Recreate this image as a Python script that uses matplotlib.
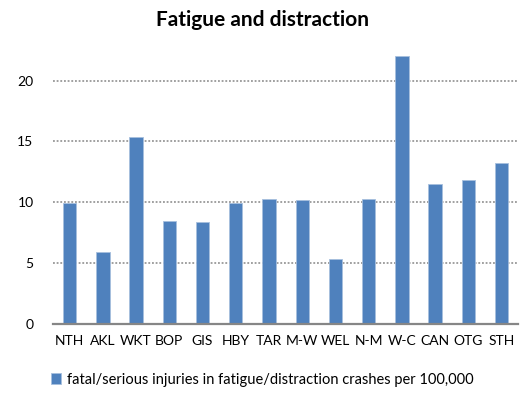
import matplotlib.pyplot as plt
import numpy as np

regions = ["NTH", "AKL", "WKT", "BOP", "GIS", "HBY", "TAR", "M-W",
           "WEL", "N-M", "W-C", "CAN", "OTG", "STH"]
rates = [9.9, 5.95, 15.35, 8.5, 8.35, 9.9, 10.25, 10.15,
         5.35, 10.25, 22.05, 11.5, 11.85, 13.25]
series_name = "fatal/serious injuries in fatigue/distraction crashes per 100,000"
yticks = [0, 5, 10, 15, 20]

plt.rcParams['font.family'] = ['Lato', 'DejaVu Sans']

fig = plt.figure(figsize=(5.25, 3.98), dpi=100)
ax = fig.add_axes([0.101, 0.186, 0.886, 0.688])

x = np.arange(len(regions))
ax.bar(x, rates, width=0.4, color='#4F81BD', edgecolor='#a7bfde',
       linewidth=0.6, label=series_name, zorder=3)

# dotted grid, grey baseline, no other spines
ax.set_yticks(yticks)
ax.yaxis.grid(True, linestyle=(0, (1.2, 1.2)), color='#868686', linewidth=1.1, zorder=0)
ax.set_ylim(0, 22.5)
ax.set_xlim(-0.5, len(regions) - 0.5)
for s in ['top', 'right', 'left']:
    ax.spines[s].set_visible(False)
ax.spines['bottom'].set_color('#868686')
ax.spines['bottom'].set_linewidth(1.6)
ax.spines['bottom'].set_zorder(4)
ax.tick_params(length=0, labelsize=10, colors='#000000')
ax.tick_params(axis='y', pad=14)
ax.tick_params(axis='x', pad=8)
ax.set_xticks(x)
ax.set_xticklabels(regions)

fig.text(0.5, 1 - 20 / 398, "Fatigue and distraction", fontsize=15,
         fontweight='bold', ha='center', va='center')

lgd = ax.legend(loc='upper center', bbox_to_anchor=(0.45, -0.13), frameon=False,
                fontsize=10.5, handlelength=0.7, handleheight=0.7, handletextpad=0.4)

fig.savefig("out.png", dpi=100)
